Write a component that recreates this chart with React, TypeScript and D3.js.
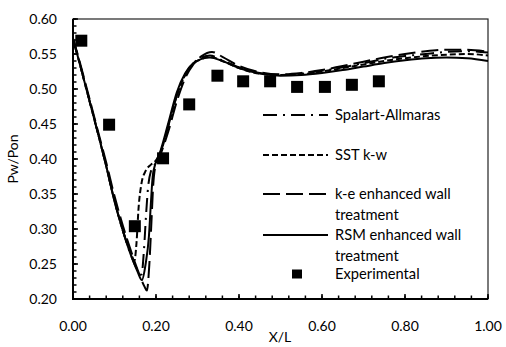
import React from 'react';
import * as d3 from 'd3';

// experimental points
const expX = [0.02, 0.087, 0.149, 0.217, 0.28, 0.348, 0.41, 0.475, 0.54, 0.607, 0.672, 0.737];
const expY = [0.569, 0.449, 0.304, 0.401, 0.478, 0.519, 0.511, 0.511, 0.503, 0.503, 0.506, 0.511];

const tailX = [0.45, 0.5, 0.55, 0.6, 0.65, 0.7, 0.75, 0.8, 0.85, 0.9, 0.95, 1.0];

// RSM enhanced wall treatment
const rsmX = [0, 0.01, 0.03, 0.06, 0.08, 0.1, 0.12, 0.14, 0.155, 0.166, 0.175, 0.183, 0.188, 0.192, 0.198, 0.21, 0.23, 0.25, 0.27, 0.29, 0.31, 0.33, 0.36, 0.4, ...tailX];
const rsmY = [0.572, 0.55, 0.505, 0.437, 0.39, 0.34, 0.298, 0.262, 0.24, 0.227, 0.25, 0.29, 0.34, 0.375, 0.392, 0.41, 0.452, 0.495, 0.522, 0.537, 0.543, 0.545, 0.54, 0.53, 0.522, 0.519, 0.52, 0.523, 0.527, 0.532, 0.537, 0.541, 0.544, 0.545, 0.544, 0.54];

// k-e enhanced wall treatment
const keX = [0, 0.01, 0.03, 0.06, 0.08, 0.1, 0.12, 0.14, 0.16, 0.172, 0.178, 0.184, 0.189, 0.193, 0.198, 0.21, 0.23, 0.25, 0.27, 0.29, 0.31, 0.335, 0.36, 0.4, ...tailX];
const keY = [0.572, 0.552, 0.508, 0.44, 0.395, 0.347, 0.305, 0.268, 0.235, 0.218, 0.212, 0.25, 0.31, 0.36, 0.388, 0.405, 0.44, 0.482, 0.515, 0.535, 0.547, 0.553, 0.546, 0.533, 0.524, 0.521, 0.523, 0.527, 0.533, 0.539, 0.545, 0.55, 0.554, 0.556, 0.556, 0.553];

// Spalart-Allmaras
const saX = [0, 0.01, 0.03, 0.06, 0.08, 0.1, 0.12, 0.14, 0.155, 0.165, 0.171, 0.176, 0.181, 0.188, 0.198, 0.21, 0.23, 0.25, 0.27, 0.29, 0.31, 0.33, 0.36, 0.4, ...tailX];
const saY = [0.57, 0.55, 0.505, 0.437, 0.39, 0.34, 0.298, 0.262, 0.242, 0.235, 0.27, 0.32, 0.36, 0.383, 0.393, 0.408, 0.448, 0.49, 0.52, 0.537, 0.545, 0.548, 0.541, 0.531, 0.523, 0.52, 0.522, 0.526, 0.531, 0.537, 0.543, 0.547, 0.55, 0.553, 0.554, 0.552];

// SST k-w
const sstX = [0, 0.01, 0.03, 0.06, 0.08, 0.1, 0.12, 0.14, 0.148, 0.153, 0.158, 0.165, 0.175, 0.188, 0.2, 0.21, 0.23, 0.25, 0.27, 0.29, 0.31, 0.33, 0.36, 0.4, ...tailX];
const sstY = [0.57, 0.55, 0.505, 0.437, 0.39, 0.34, 0.298, 0.265, 0.255, 0.28, 0.33, 0.365, 0.383, 0.392, 0.398, 0.408, 0.448, 0.49, 0.52, 0.536, 0.543, 0.546, 0.54, 0.53, 0.522, 0.52, 0.521, 0.525, 0.53, 0.535, 0.54, 0.544, 0.547, 0.549, 0.55, 0.548];

const legendNames = ['Spalart-Allmaras', 'SST k-w', 'k-e enhanced wall', 'treatment', 'RSM enhanced wall', 'treatment', 'Experimental'];

const W = 506;
const H = 347;
const left = 73, right = 488, top = 19, bottom = 299;
const font = 'Lato, "Open Sans", sans-serif';

const x = d3.scaleLinear().domain([0, 1]).range([left, right]);
const y = d3.scaleLinear().domain([0.2, 0.6]).range([bottom, top]);

const series = [
  { xs: saX, ys: saY, dash: '14,6,2,6' },
  { xs: sstX, ys: sstY, dash: '6,3' },
  { xs: keX, ys: keY, dash: '17,6' },
  { xs: rsmX, ys: rsmY, dash: '' },
];

const line = d3.line<[number, number]>()
  .x(d => x(d[0]))
  .y(d => y(d[1]))
  .curve(d3.curveMonotoneX);

export default function App() {
  const yMajor = d3.range(0.2, 0.6001, 0.05);
  const yMinor = d3.range(0.2, 0.6001, 0.01);
  const xMajor = d3.range(0, 1.0001, 0.2);
  const xMinor = d3.range(0, 1.0001, 0.04);
  const fmt = d3.format('.2f');

  const legY = [115, 155, 194, 215, 235, 256, 274];
  const legLines = [0, 1, 2, 4];

  return (
    <svg width={W} height={H} style={{ position: 'absolute', left: 0, top: 0, background: '#fff' }}>
      <rect x={left} y={top} width={right - left} height={bottom - top} fill="none" stroke="#222" strokeWidth={1.2} />

      {yMinor.map((v, i) => (
        <line key={'ym' + i} x1={left} x2={left + 3.5} y1={y(v)} y2={y(v)} stroke="#000" strokeWidth={1.5} />
      ))}
      {yMajor.map((v, i) => (
        <g key={'yM' + i}>
          <line x1={left} x2={left + 5} y1={y(v)} y2={y(v)} stroke="#000" strokeWidth={1.5} />
          <text x={57} y={y(v)} dy="0.35em" textAnchor="end" fontFamily={font} fontSize={14} fill="#000">{fmt(v)}</text>
        </g>
      ))}
      {xMinor.map((v, i) => (
        <line key={'xm' + i} x1={x(v)} x2={x(v)} y1={bottom} y2={bottom - 3.5} stroke="#000" strokeWidth={1.5} />
      ))}
      {xMajor.map((v, i) => (
        <g key={'xM' + i}>
          <line x1={x(v)} x2={x(v)} y1={bottom} y2={bottom - 5} stroke="#000" strokeWidth={1.5} />
          <text x={x(v)} y={326} dy="0.35em" textAnchor="middle" fontFamily={font} fontSize={14} fill="#000">{fmt(v)}</text>
        </g>
      ))}
      <line x1={left} x2={left} y1={top} y2={bottom + 1} stroke="#000" strokeWidth={2} />
      <line x1={left - 1} x2={right} y1={bottom} y2={bottom} stroke="#000" strokeWidth={2} />

      <text x={280} y={337} dy="0.35em" textAnchor="middle" fontFamily={font} fontSize={14} fill="#000">X/L</text>
      <text transform={`translate(13,159) rotate(-90)`} dy="0.35em" textAnchor="middle" fontFamily={font} fontSize={14} fill="#000">Pw/Pon</text>

      {series.map((s, i) => (
        <path key={'s' + i} d={line(s.xs.map((v, j) => [v, s.ys[j]] as [number, number])) || ''}
          fill="none" stroke="#000" strokeWidth={2} strokeDasharray={s.dash || undefined} />
      ))}

      {expX.map((v, i) => (
        <rect key={'e' + i} x={x(v) - 6} y={y(expY[i]) - 6} width={12} height={12} fill="#000" />
      ))}

      {legendNames.map((n, i) => (
        <text key={'l' + i} x={335} y={legY[i]} dy="0.35em" fontFamily={font} fontSize={14.7} fill="#000">{n}</text>
      ))}
      {legLines.map((li, k) => (
        <line key={'ll' + k} x1={263} x2={328} y1={legY[li]} y2={legY[li]} stroke="#000" strokeWidth={2}
          strokeDasharray={series[k].dash || undefined} />
      ))}
      <rect x={292} y={legY[6] - 4.5} width={10} height={9} fill="#000" />
    </svg>
  );
}
